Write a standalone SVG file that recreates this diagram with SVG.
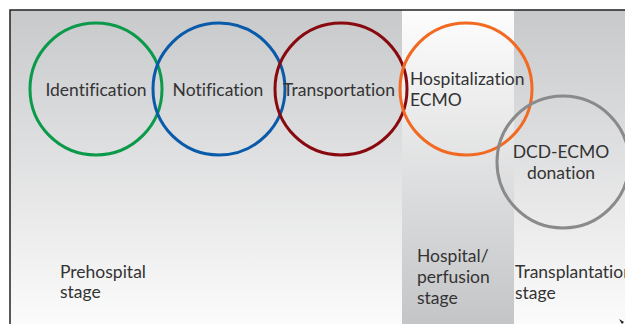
<svg xmlns="http://www.w3.org/2000/svg" width="625" height="324" viewBox="0 0 625 324">
<defs>
<linearGradient id="gDown" x1="0" y1="0" x2="0" y2="1">
<stop offset="0" stop-color="#c8c9cb"/>
<stop offset="1" stop-color="#fbfbfb"/>
</linearGradient>
<linearGradient id="gUp" x1="0" y1="0" x2="0" y2="1">
<stop offset="0" stop-color="#fdfdfd"/>
<stop offset="1" stop-color="#c4c5c7"/>
</linearGradient>
</defs>
<style>
.c{fill:none;stroke-width:3}
.t{font-family:Lato,"Noto Sans",sans-serif;font-size:17.5px;fill:#333;font-variant-ligatures:none}
.m{text-anchor:middle}
</style>
<rect x="0" y="0" width="625" height="324" fill="#ffffff"/>
<g id="background">
<rect x="10" y="10" width="392" height="314" fill="url(#gDown)"/>
<rect x="402" y="11" width="112" height="313" fill="url(#gUp)"/>
<rect x="514" y="10" width="111" height="314" fill="url(#gDown)"/>
<path d="M10,324 V10 H625" fill="none" stroke="#222" stroke-width="1.5"/>
</g>
<g id="identification">
<circle class="c" cx="96" cy="89" r="66" stroke="#0a9a4a"/>
<text class="t m" x="96" y="95.5">Identification</text>
</g>
<g id="notification">
<circle class="c" cx="219" cy="89" r="66" stroke="#0a5aaa"/>
<text class="t m" x="218" y="95.5">Notification</text>
</g>
<g id="transportation">
<circle class="c" cx="341" cy="89" r="66" stroke="#880a0e"/>
<text class="t m" x="339" y="95.5">Transportation</text>
</g>
<g id="hospitalization">
<circle class="c" cx="466" cy="89" r="66" stroke="#f26a22"/>
<text class="t" x="410" y="84.7">Hospitalization</text>
<text class="t" x="410" y="106">ECMO</text>
</g>
<g id="donation">
<circle class="c" cx="563" cy="162" r="66" stroke="#8a8a8a"/>
<text class="t m" x="561" y="158">DCD-ECMO</text>
<text class="t m" x="561" y="179.3">donation</text>
</g>
<g id="stages">
<text class="t" x="60" y="277.7">Prehospital</text>
<text class="t" x="60" y="298">stage</text>
<text class="t" x="417" y="261.7">Hospital/</text>
<text class="t" x="417" y="283">perfusion</text>
<text class="t" x="417" y="304">stage</text>
<text class="t" x="515" y="278.3">Transplantation</text>
<text class="t" x="515" y="298.6">stage</text>
</g>
<g id="connectors">
<path d="M619,319 L624,322 L622,324 Z" fill="#222"/>
</g>
</svg>
